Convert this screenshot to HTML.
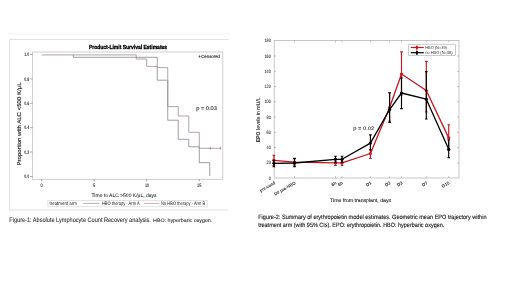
<!DOCTYPE html>
<html><head><meta charset="utf-8">
<style>
html,body{margin:0;padding:0;background:#fff;}
body{width:520px;height:292px;overflow:hidden;}
svg{display:block;will-change:transform;filter:blur(0.45px);}
text{font-family:"Liberation Sans",sans-serif;text-rendering:geometricPrecision;}
</style></head>
<body>
<svg width="520" height="292" viewBox="0 0 520 292">
<rect x="0" y="0" width="520" height="292" fill="#fff"/>

<!-- ============ LEFT FIGURE ============ -->
<line x1="8" y1="33.8" x2="230" y2="33.8" stroke="#f4f4f4" stroke-width="1"/>
<path d="M228.5,39.5H9.5V210H228.5" fill="none" stroke="#e2e2e2" stroke-width="1"/>
<!-- plot box -->
<rect x="32.5" y="52" width="190.3" height="127.3" fill="none" stroke="#c4c4c4" stroke-width="0.8"/>
<text x="88.9" y="48.7" font-size="5.9" font-weight="bold" stroke="#000" stroke-width="0.32" textLength="78.2" lengthAdjust="spacingAndGlyphs" fill="#000">Product-Limit Survival Estimates</text>

<!-- y ticks -->
<g stroke="#777" stroke-width="0.6">
<line x1="30" y1="54.5" x2="32.5" y2="54.5"/>
<line x1="30" y1="78.9" x2="32.5" y2="78.9"/>
<line x1="30" y1="103.3" x2="32.5" y2="103.3"/>
<line x1="30" y1="127.7" x2="32.5" y2="127.7"/>
<line x1="30" y1="152.1" x2="32.5" y2="152.1"/>
<line x1="30" y1="176.5" x2="32.5" y2="176.5"/>
<line x1="41.75" y1="179" x2="41.75" y2="181.5"/>
<line x1="94.25" y1="179" x2="94.25" y2="181.5"/>
<line x1="146.75" y1="179" x2="146.75" y2="181.5"/>
<line x1="199.25" y1="179" x2="199.25" y2="181.5"/>
</g>
<g font-size="5" font-weight="bold" fill="#333">
<text x="24.2" y="56.2" textLength="5.0" lengthAdjust="spacingAndGlyphs">1.0</text>
<text x="24.2" y="80.6" textLength="5.0" lengthAdjust="spacingAndGlyphs">0.8</text>
<text x="24.2" y="105.0" textLength="5.0" lengthAdjust="spacingAndGlyphs">0.6</text>
<text x="24.2" y="129.4" textLength="5.0" lengthAdjust="spacingAndGlyphs">0.4</text>
<text x="24.2" y="153.8" textLength="5.0" lengthAdjust="spacingAndGlyphs">0.2</text>
<text x="24.2" y="178.2" textLength="5.0" lengthAdjust="spacingAndGlyphs">0.0</text>
</g>
<g font-size="5" fill="#222" stroke="#222" stroke-width="0.08" text-anchor="middle">
<text x="41.6" y="186.6" textLength="2.3" lengthAdjust="spacingAndGlyphs">0</text>
<text x="94.2" y="186.6" textLength="2.3" lengthAdjust="spacingAndGlyphs">5</text>
<text x="147" y="186.6" textLength="4.2" lengthAdjust="spacingAndGlyphs">10</text>
<text x="199.2" y="186.6" textLength="4.3" lengthAdjust="spacingAndGlyphs">15</text>
</g>
<text transform="translate(21,165.5) rotate(-90)" font-size="5.5" stroke="#222" stroke-width="0.16" textLength="83" lengthAdjust="spacingAndGlyphs" fill="#222">Proportion with ALC &lt;500 K/μL</text>
<text x="91.5" y="197" font-size="5.1" stroke="#222" stroke-width="0.04" textLength="65" lengthAdjust="spacingAndGlyphs" fill="#222">Time to ALC &gt;500 K/μL, days</text>

<!-- legend -->
<rect x="47.9" y="200.4" width="159.3" height="6.4" fill="none" stroke="#d0d0d0" stroke-width="0.6"/>
<g font-size="5" fill="#222">
<text x="49.6" y="205.1" textLength="27.2" lengthAdjust="spacingAndGlyphs">treatment arm</text>
<text x="101.9" y="205.1" textLength="37.7" lengthAdjust="spacingAndGlyphs">HBO therapy - Arm A</text>
<text x="161.1" y="205.1" textLength="44" lengthAdjust="spacingAndGlyphs">No HBO therapy - Arm B</text>
</g>
<line x1="83.2" y1="203.4" x2="99.6" y2="203.4" stroke="#7f8590" stroke-width="0.6"/>
<line x1="143.9" y1="203.4" x2="159.3" y2="203.4" stroke="#b08080" stroke-width="0.6"/>

<!-- censored legend -->
<text x="198.2" y="58.1" font-size="4.6" font-weight="bold" fill="#222">+</text><text x="201.2" y="58.2" font-size="4.6" stroke="#222" stroke-width="0.1" textLength="18.8" lengthAdjust="spacingAndGlyphs" fill="#222">Censored</text>
<text x="196.2" y="110.4" font-size="5.4" stroke="#222" stroke-width="0.1" textLength="20.7" lengthAdjust="spacingAndGlyphs" fill="#222">p = 0.03</text>

<!-- KM curves -->
<polyline fill="none" stroke="#84878f" stroke-width="0.8"
 points="73.25,54.9 73.25,57.3 157.25,57.3 157.25,80.2 167.75,80.2 167.75,120.2 178.25,120.2 178.25,139.3 188.75,139.3 188.75,146.8 199.25,146.8 199.25,162.7 209.75,162.7 209.75,176.1"/>
<polyline fill="none" stroke="#9c8e8e" stroke-width="0.8"
 points="41.75,54.9 136.25,54.9 136.25,59 146.75,59 146.75,66.4 157.25,66.4 157.25,67.6 167.75,67.6 167.75,106.6 178.25,106.6 178.25,116 188.75,116 188.75,132.3 199.25,132.3 199.25,148.3 220.78,148.3"/>
<g stroke="#7a6a6a" stroke-width="0.6">
<line x1="210.2" y1="146.8" x2="210.2" y2="149.8"/>
<line x1="220.6" y1="146.8" x2="220.6" y2="149.8"/>
</g>

<!-- captions -->
<text x="9.3" y="222.2" font-size="6.5" stroke="#222" stroke-width="0.05" textLength="141.5" lengthAdjust="spacingAndGlyphs" fill="#222">Figure-1: Absolute Lymphocyte Count Recovery analysis.</text><text x="153.1" y="221.8" font-size="5.1" stroke="#222" stroke-width="0.05" textLength="59.2" lengthAdjust="spacingAndGlyphs" fill="#222">HBO: hyperbaric oxygen.</text>

<!-- ============ RIGHT FIGURE ============ -->
<rect x="274.2" y="40.5" width="184.8" height="137.5" fill="none" stroke="#b8b8b8" stroke-width="0.8"/>
<g stroke="#999" stroke-width="0.6">
<!-- y ticks left -->
<line x1="274.2" y1="56" x2="276" y2="56"/>
<line x1="274.2" y1="71.3" x2="276" y2="71.3"/>
<line x1="274.2" y1="86.6" x2="276" y2="86.6"/>
<line x1="274.2" y1="101.8" x2="276" y2="101.8"/>
<line x1="274.2" y1="117.1" x2="276" y2="117.1"/>
<line x1="274.2" y1="132.4" x2="276" y2="132.4"/>
<line x1="274.2" y1="147.6" x2="276" y2="147.6"/>
<line x1="274.2" y1="162.9" x2="276" y2="162.9"/>
<!-- right -->
<line x1="457.2" y1="56" x2="459" y2="56"/>
<line x1="457.2" y1="71.3" x2="459" y2="71.3"/>
<line x1="457.2" y1="86.6" x2="459" y2="86.6"/>
<line x1="457.2" y1="101.8" x2="459" y2="101.8"/>
<line x1="457.2" y1="117.1" x2="459" y2="117.1"/>
<line x1="457.2" y1="132.4" x2="459" y2="132.4"/>
<line x1="457.2" y1="147.6" x2="459" y2="147.6"/>
<line x1="457.2" y1="162.9" x2="459" y2="162.9"/>
<!-- x ticks bottom/top -->
<line x1="294.5" y1="176.2" x2="294.5" y2="178"/>
<line x1="335.5" y1="176.2" x2="335.5" y2="178"/>
<line x1="342" y1="176.2" x2="342" y2="178"/>
<line x1="370.4" y1="176.2" x2="370.4" y2="178"/>
<line x1="389.6" y1="176.2" x2="389.6" y2="178"/>
<line x1="401.5" y1="176.2" x2="401.5" y2="178"/>
<line x1="426.3" y1="176.2" x2="426.3" y2="178"/>
<line x1="448.7" y1="176.2" x2="448.7" y2="178"/>
<line x1="294.5" y1="40.5" x2="294.5" y2="42.3"/>
<line x1="335.5" y1="40.5" x2="335.5" y2="42.3"/>
<line x1="342" y1="40.5" x2="342" y2="42.3"/>
<line x1="370.4" y1="40.5" x2="370.4" y2="42.3"/>
<line x1="389.6" y1="40.5" x2="389.6" y2="42.3"/>
<line x1="401.5" y1="40.5" x2="401.5" y2="42.3"/>
<line x1="426.3" y1="40.5" x2="426.3" y2="42.3"/>
<line x1="448.7" y1="40.5" x2="448.7" y2="42.3"/>
</g>
<g font-size="4.8" fill="#333" stroke="#333" stroke-width="0.08">
<text x="264.5" y="42.2" textLength="6.3" lengthAdjust="spacingAndGlyphs">180</text>
<text x="264.5" y="57.5" textLength="6.3" lengthAdjust="spacingAndGlyphs">160</text>
<text x="264.5" y="72.8" textLength="6.3" lengthAdjust="spacingAndGlyphs">140</text>
<text x="264.5" y="88.0" textLength="6.3" lengthAdjust="spacingAndGlyphs">120</text>
<text x="264.5" y="103.2" textLength="6.3" lengthAdjust="spacingAndGlyphs">100</text>
<text x="266.6" y="118.5" textLength="4.2" lengthAdjust="spacingAndGlyphs">80</text>
<text x="266.6" y="133.8" textLength="4.2" lengthAdjust="spacingAndGlyphs">60</text>
<text x="266.6" y="149.0" textLength="4.2" lengthAdjust="spacingAndGlyphs">40</text>
<text x="266.6" y="164.2" textLength="4.2" lengthAdjust="spacingAndGlyphs">20</text>
<text x="268.7" y="179.5" textLength="2.1" lengthAdjust="spacingAndGlyphs">0</text>
</g>
<text transform="translate(260.4,142.3) rotate(-90)" font-size="5.5" stroke="#222" stroke-width="0.06" textLength="45" lengthAdjust="spacingAndGlyphs" fill="#222"><tspan font-weight="bold">EPO</tspan> levels in mU/L</text>

<!-- x tick labels rotated -->
<g font-size="4.5" font-weight="bold" fill="#333" text-anchor="end">
<text transform="translate(275.5,183.8) rotate(-30)" textLength="17" lengthAdjust="spacingAndGlyphs">pre-cond</text>
<text transform="translate(296,183.8) rotate(-30)" textLength="24" lengthAdjust="spacingAndGlyphs">D0 pre-HBO</text>
<text transform="translate(337,183.8) rotate(-30)">6h</text>
<text transform="translate(343.5,183.8) rotate(-30)">6h</text>
<text transform="translate(372,183.8) rotate(-30)">D1</text>
<text transform="translate(391,183.8) rotate(-30)">D2</text>
<text transform="translate(403,183.8) rotate(-30)">D3</text>
<text transform="translate(428,183.8) rotate(-30)">D7</text>
<text transform="translate(450,183.8) rotate(-30)">D15</text>
</g>
<text x="330.1" y="201.6" font-size="5.2" stroke="#222" stroke-width="0.1" textLength="61" lengthAdjust="spacingAndGlyphs" fill="#222">Time from transplant, days</text>
<text x="353.3" y="129.7" font-size="5" stroke="#333" stroke-width="0.1" textLength="20.8" lengthAdjust="spacingAndGlyphs" fill="#333">p = 0.02</text>

<!-- legend -->
<rect x="408.7" y="44.2" width="46.9" height="11.4" fill="#fff" stroke="#aaa" stroke-width="0.6"/>
<line x1="410.8" y1="47.5" x2="423.8" y2="47.5" stroke="#c8161f" stroke-width="1.2"/>
<rect x="415.9" y="45.4" width="1.9" height="4.3" rx="0.9" fill="#c8161f"/>
<line x1="410.8" y1="52.7" x2="423.8" y2="52.7" stroke="#000" stroke-width="1.2"/>
<rect x="415.9" y="50.6" width="1.9" height="4.2" rx="0.9" fill="#000"/>
<g font-size="4.3" fill="#333">
<text x="425.2" y="49.1" textLength="21.7" lengthAdjust="spacingAndGlyphs">HBO (N=39)</text>
<text x="425.2" y="54.3" textLength="27.3" lengthAdjust="spacingAndGlyphs">no HBO (N=38)</text>
</g>

<!-- error bars red -->
<g stroke="#c8161f" stroke-width="1.15" fill="none">
<path d="M273.9,155.3V165.5M272.6,155.3H275.2M272.6,165.5H275.2"/>
<path d="M294.5,159V165M293.2,159H295.8M293.2,165H295.8"/>
<path d="M335.5,159.5V165.5M334.2,159.5H336.8M334.2,165.5H336.8"/>
<path d="M342,159.5V165.5M340.7,159.5H343.3M340.7,165.5H343.3"/>
<path d="M370.4,149.5V158.5M369.1,149.5H371.7M369.1,158.5H371.7"/>
<path d="M389.6,92.5V121M388.3,92.5H390.9M388.3,121H390.9"/>
<path d="M401.5,51.8V95M400.2,51.8H402.8M400.2,95H402.8"/>
<path d="M426.3,61.4V112M425,61.4H427.6M425,112H427.6"/>
<path d="M448.7,124.7V150M447.4,124.7H450M447.4,150H450"/>
</g>
<polyline fill="none" stroke="#c8161f" stroke-width="1.3" stroke-linejoin="round"
 points="273.9,160.3 294.5,162.2 335.5,162.9 342,162.9 370.4,153.5 389.6,107.5 401.5,74 426.3,90.5 448.7,137.9"/>
<g fill="#c8161f">
<circle cx="273.9" cy="160.3" r="1.6"/><circle cx="294.5" cy="162.2" r="1.6"/><circle cx="335.5" cy="162.9" r="1.6"/>
<circle cx="342" cy="162.9" r="1.6"/><circle cx="370.4" cy="153.5" r="1.6"/><circle cx="389.6" cy="107.5" r="1.6"/>
<circle cx="401.5" cy="74" r="1.6"/><circle cx="426.3" cy="90.5" r="1.6"/><circle cx="448.7" cy="137.9" r="1.6"/>
</g>
<!-- error bars black -->
<g stroke="#000" stroke-width="1.15" fill="none">
<path d="M273.9,160.4V166.6M272.6,160.4H275.2M272.6,166.6H275.2"/>
<path d="M294.5,158.4V166.6M293.2,158.4H295.8M293.2,166.6H295.8"/>
<path d="M335.5,156.2V162.4M334.2,156.2H336.8M334.2,162.4H336.8"/>
<path d="M342,156.2V162.4M340.7,156.2H343.3M340.7,162.4H343.3"/>
<path d="M370.4,134.9V150M369.1,134.9H371.7M369.1,150H371.7"/>
<path d="M389.6,93V122.4M388.3,93H390.9M388.3,122.4H390.9"/>
<path d="M401.5,78V108.6M400.2,78H402.8M400.2,108.6H402.8"/>
<path d="M426.3,71.6V119M425,71.6H427.6M425,119H427.6"/>
<path d="M448.7,140V157.7M447.4,140H450M447.4,157.7H450"/>
</g>
<polyline fill="none" stroke="#000" stroke-width="1.3" stroke-linejoin="round"
 points="273.9,163.3 294.5,163 335.5,159.3 342,159.3 370.4,143.1 389.6,109.6 401.5,93 426.3,99.2 448.7,149.3"/>
<g fill="#000">
<circle cx="273.9" cy="163.3" r="1.6"/><circle cx="294.5" cy="163" r="1.6"/><circle cx="335.5" cy="159.3" r="1.6"/>
<circle cx="342" cy="159.3" r="1.6"/><circle cx="370.4" cy="143.1" r="1.6"/><circle cx="389.6" cy="109.6" r="1.6"/>
<circle cx="401.5" cy="93" r="1.6"/><circle cx="426.3" cy="99.2" r="1.6"/><circle cx="448.7" cy="149.3" r="1.6"/>
</g>

<!-- caption -->
<g font-size="6.2" fill="#222" stroke="#222" stroke-width="0.14">
<text x="258.2" y="219.1" textLength="228.3" lengthAdjust="spacingAndGlyphs">Figure-2: Summary of erythropoietin model estimates. Geometric mean EPO trajectory within</text>
<text x="258.2" y="226.8" textLength="186.1" lengthAdjust="spacingAndGlyphs">treatment arm (with 95% CIs). EPO: erythropoietin. HBO: hyperbaric oxygen.</text>
</g>
</svg>
</body></html>
